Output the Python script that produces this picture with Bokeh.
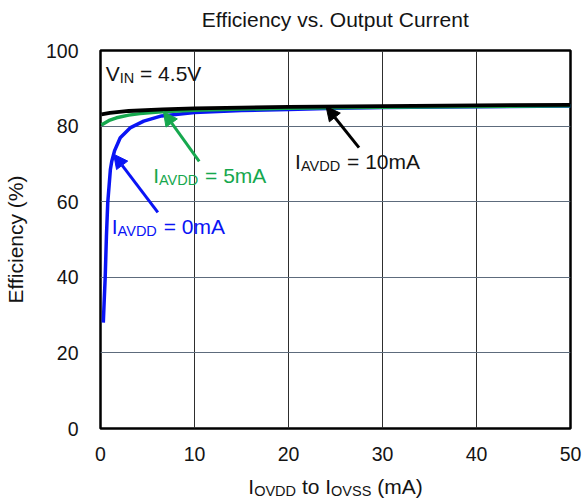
from bokeh.plotting import figure
from bokeh.models import Range1d, FixedTicker, Label, Arrow, NormalHead
from bokeh.layouts import column
from bokeh.core.properties import value
from bokeh.embed import file_html
from bokeh.resources import INLINE
import numpy as np

# Efficiency (%) versus output current I_OVDD to I_OVSS (mA), V_IN = 4.5 V
iovdd_0 = [0.3, 0.38, 0.5, 0.63, 0.77, 1.05, 1.2, 1.5, 2.1, 3.2, 4.6, 6.5, 10, 15, 20, 25, 30, 40, 50]
eff_0 = [28.0, 33.0, 40.0, 50.8, 59.7, 68.5, 70.7, 73.5, 76.9, 79.6, 81.3, 82.7, 83.6, 84.1, 84.4, 84.7, 84.9, 85.1, 85.3]

iovdd_5 = [0.1, 0.5, 1.0, 1.7, 3.0, 4.2, 6.5, 10, 15, 20, 30, 40, 50]
eff_5 = [80.3, 80.9, 81.6, 82.2, 82.9, 83.3, 83.8, 84.2, 84.5, 84.7, 85.0, 85.2, 85.4]

iovdd_10 = [0.1, 1.0, 3.0, 6.6, 10, 15, 20, 30, 40, 50]
eff_10 = [83.1, 83.5, 84.0, 84.4, 84.7, 84.9, 85.1, 85.3, 85.5, 85.6]

x_ticks = [0, 10, 20, 30, 40, 50]
y_ticks = [0, 20, 40, 60, 80, 100]

BLUE = "#0a14f5"
GREEN = "#16a84e"
BLACK = "#000000"
FONT = "Liberation Sans"
TEXT = "#141414"

TOP_H = 40     # strip above the chart carrying the title
BOTTOM_H = 30  # strip under the chart carrying the x-axis title

p = figure(width=582, height=504 - TOP_H - BOTTOM_H, output_backend="svg", toolbar_location=None,
           x_range=Range1d(0, 50), y_range=Range1d(0, 100),
           min_border_left=95, min_border_right=12, min_border_top=50 - TOP_H,
           min_border_bottom=76 - BOTTOM_H)
p.background_fill_color = "white"
p.border_fill_color = "white"
p.outline_line_color = "black"
p.outline_line_width = 2.5

p.xaxis.ticker = FixedTicker(ticks=x_ticks)
p.yaxis.ticker = FixedTicker(ticks=y_ticks)
for ax in (p.xaxis, p.yaxis):
    ax.axis_line_color = None
    ax.major_tick_line_color = None
    ax.minor_tick_line_color = None
    ax.major_label_text_font = FONT
    ax.major_label_text_font_size = "19.5px"
    ax.major_label_text_color = TEXT
p.xaxis.major_label_standoff = 12
p.yaxis.major_label_standoff = 16
p.yaxis.axis_label = "Efficiency (%)"
p.yaxis.axis_label_text_font = FONT
p.yaxis.axis_label_text_font_size = "21px"
p.yaxis.axis_label_text_font_style = "normal"
p.yaxis.axis_label_text_color = TEXT
p.yaxis.axis_label_standoff = 16

p.xgrid.grid_line_color = "#2e2e2e"
p.xgrid.grid_line_width = 1
p.ygrid.grid_line_color = "#5d6b7c"
p.ygrid.grid_line_width = 1

p.line(iovdd_0, eff_0, line_color=BLUE, line_width=3.5)
p.line(iovdd_5, eff_5, line_color=GREEN, line_width=3.5)
p.line(iovdd_10, eff_10, line_color=BLACK, line_width=3.8)

# Arial / Liberation Sans advance widths (em units)
ADV = {"I": 0.278, "A": 0.667, "V": 0.667, "D": 0.722, "O": 0.778, "S": 0.667,
       "N": 0.722, "E": 0.667, "C": 0.722, " ": 0.278, "=": 0.584, "(": 0.333,
       ")": 0.333, ".": 0.278, "m": 0.833, "t": 0.278, "o": 0.556, "f": 0.278,
       "i": 0.222, "c": 0.5, "y": 0.5, "v": 0.5, "s": 0.5, "r": 0.333,
       "e": 0.556, "n": 0.556, "u": 0.556, "p": 0.556}


def adv(s, size):
    return sum(ADV.get(c, 0.556) for c in s) * size


def pieces(parts, size, sub_size, align):
    """Return (text, font size, x offset, is_sub) for a run of text with subscripts."""
    widths = [adv(t, sub_size if sub else size) for t, sub in parts]
    dx = -sum(widths) / 2 if align == "center" else 0.0
    out = []
    for (t, sub), w in zip(parts, widths):
        fs = sub_size if sub else size
        lead = len(t) - len(t.lstrip(" "))
        body = t.strip(" ")
        if body:
            out.append((body, fs, dx + adv(" " * lead, fs), sub))
        dx += w
    return out


def rich_label(x, y, parts, color, size=21.0, sub_size=14.5, sub_drop=4.5):
    for body, fs, dx, sub in pieces(parts, size, sub_size, "left"):
        p.add_layout(Label(x=x, y=y, x_offset=dx, y_offset=-sub_drop if sub else 0,
                           text=body, text_font=FONT, text_font_size=f"{fs}px",
                           text_color=color, text_align="left",
                           text_baseline="alphabetic"))


# annotations inside the chart
rich_label(0.55, 94.0, [("V", False), ("IN", True), (" = 4.5V", False)], TEXT)
rich_label(20.7, 70.6, [("I", False), ("AVDD", True), (" = 10mA", False)], TEXT)
rich_label(5.6, 66.8, [("I", False), ("AVDD", True), (" = 5mA", False)], GREEN)
rich_label(1.2, 53.5, [("I", False), ("AVDD", True), (" = 0mA", False)], BLUE)


def pointer(x_tail, y_tail, x_tip, xs, ys, color):
    y_tip = float(np.interp(x_tip, xs, ys))
    p.add_layout(Arrow(x_start=x_tail, y_start=y_tail, x_end=x_tip, y_end=y_tip,
                       line_color=color, line_width=3,
                       end=NormalHead(size=14, fill_color=color, line_color=color, line_width=1)))


pointer(27.5, 74.3, 24.0, iovdd_10, eff_10, BLACK)
pointer(10.5, 70.7, 6.7, iovdd_5, eff_5, GREEN)
pointer(6.1, 57.2, 1.4, iovdd_0, eff_0, BLUE)


def text_strip(height, baseline_y, parts):
    """A bare strip sharing the chart's x scale, holding one centred line of text."""
    s = figure(width=582, height=height, output_backend="svg", toolbar_location=None,
               x_range=p.x_range, y_range=Range1d(0, height),
               x_axis_location=None, y_axis_location=None,
               min_border_left=95, min_border_right=12, min_border_top=0, min_border_bottom=0)
    s.outline_line_color = None
    s.grid.visible = False
    s.background_fill_color = "white"
    s.border_fill_color = "white"
    for body, fs, dx, sub in pieces(parts, 21.0, 14.5, "center"):
        s.text(x=[25], y=[baseline_y], text=[body], x_offset=dx, y_offset=4.5 if sub else 0,
               text_font=value(FONT), text_font_size=value(f"{fs}px"),
               text_color=TEXT, text_align="left", text_baseline="alphabetic")
    return s


title_strip = text_strip(TOP_H, 21, [("Efficiency vs. Output Current", False)])
xlabel_strip = text_strip(BOTTOM_H, 18, [("I", False), ("OVDD", True), (" to I", False),
                                         ("OVSS", True), (" (mA)", False)])

layout = column(title_strip, p, xlabel_strip, spacing=0)
open("out.html", "w").write(file_html(layout, INLINE))
